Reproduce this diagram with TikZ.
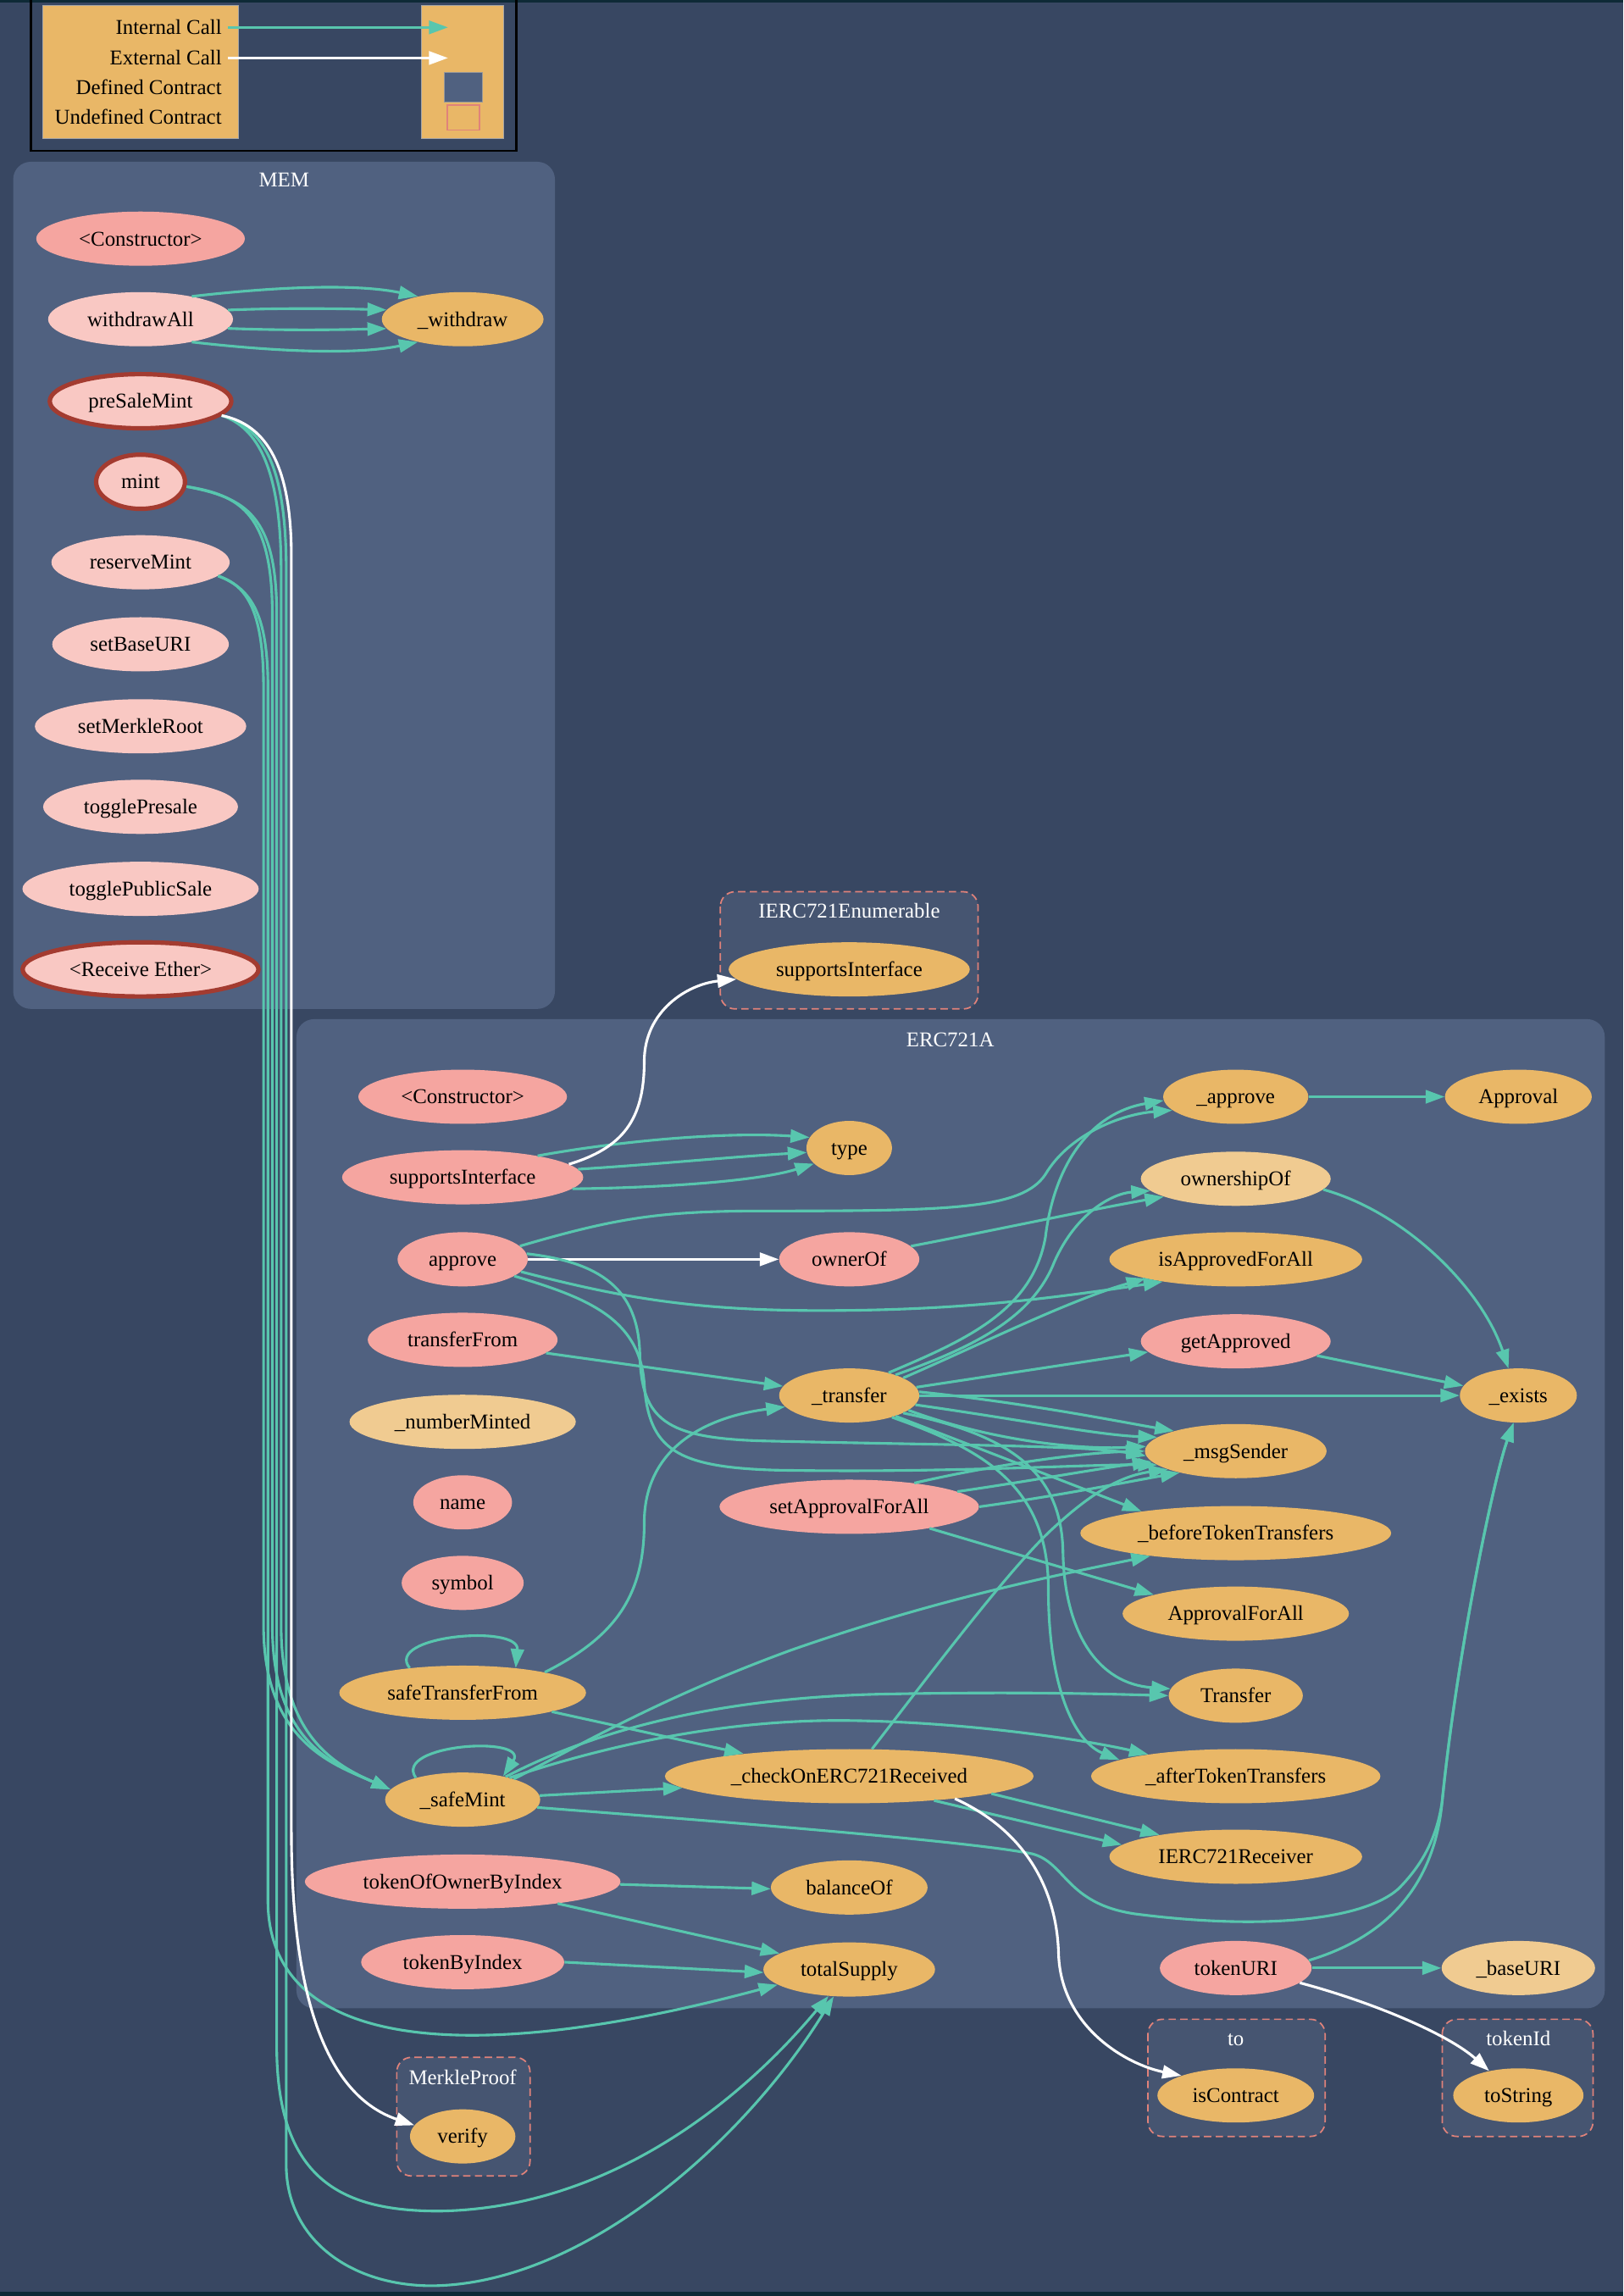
\documentclass[tikz,border=0pt]{standalone}
\usepackage{fontspec}
\setmainfont{Liberation Serif}
\usetikzlibrary{shapes.geometric,arrows.meta}
\definecolor{bgc}{HTML}{384762}
\definecolor{edgeband}{HTML}{0E2A36}
\definecolor{clf}{HTML}{506180}
\definecolor{uclf}{HTML}{465571}
\definecolor{dashc}{HTML}{E0827A}
\definecolor{orng}{HTML}{E9B767}
\definecolor{lorng}{HTML}{F0CB91}
\definecolor{salmon}{HTML}{F5A5A0}
\definecolor{lpink}{HTML}{F9C8C3}
\definecolor{redb}{HTML}{A33B30}
\definecolor{tealc}{HTML}{58C6AE}
\begin{document}
\begin{tikzpicture}[x=1pt,y=-1pt,
  every node/.style={font=\fontsize{14.4}{17}\selectfont},
  fn/.style={ellipse, inner xsep=8.25pt, inner ysep=1pt, minimum height=37pt, minimum width=55.6pt, text height=9.6pt, text depth=0pt, text=black},
  pub/.style={fn, fill=salmon},
  lpub/.style={fn, fill=lpink},
  intf/.style={fn, fill=orng},
  lint/.style={fn, fill=lorng},
  extb/.style={draw=redb, line width=3pt},
  ic/.style={draw=tealc, line width=1.8pt, -{Triangle[length=13pt,width=9pt]}},
  ec/.style={draw=white, line width=1.8pt, -{Triangle[length=13pt,width=9pt]}},
  clus/.style={fill=clf, rounded corners=12pt},
  uclus/.style={fill=uclf, draw=dashc, dash pattern=on 5pt off 3pt, line width=1pt, rounded corners=10pt},
  ctitle/.style={text=white, text height=9.6pt, text depth=0pt, inner sep=0pt},
  ltxt/.style={text=black, text height=9.6pt, text depth=0pt, inner xsep=3.9pt, inner ysep=0pt, anchor=east}
]
\useasboundingbox (0,0) rectangle (1108.6,1568);
\fill[bgc] (0,0) rectangle (1108.6,1568);
\fill[edgeband] (0,0) rectangle (1108.6,1.5);
\fill[edgeband] (0,1565) rectangle (1108.6,1568);

% legend
\draw[black, line width=1.5pt] (21,-3) rectangle (352.5,103);
\fill[orng, draw=gray!70, line width=0.6pt] (29,4) rectangle (163,94.5);
\fill[orng, draw=gray!70, line width=0.6pt] (288,4) rectangle (344,94.5);
\node[ltxt] (lgi) at (155.5,18.7) {Internal Call};
\node[ltxt] (lge) at (155.5,39.6) {External Call};
\node[ltxt] (lgd) at (155.5,59.8) {Defined Contract};
\node[ltxt] (lgu) at (155.5,80.1) {Undefined Contract};
\coordinate (lgit) at (306,18.7);
\coordinate (lget) at (306,39.6);
\node[draw=gray!80, fill=clf, line width=0.6pt, minimum width=25.8pt, minimum height=20.6pt, inner sep=0pt] (lgdef) at (316.5,59.7) {};
\node[draw=dashc, line width=0.8pt, minimum width=21.8pt, minimum height=17pt, inner sep=0pt] (lgund) at (316.5,80.3) {};
\draw[ic] (lgi.east) -- (lgit);
\draw[ec] (lge.east) -- (lget);

% clusters
\fill[clus] (9,110.5) rectangle (379,689);
\node[ctitle] (tmem) at (194,123) {MEM};
\fill[uclus] (492,609) rectangle (668,689);
\node[ctitle] (tenum) at (580,622) {IERC721Enumerable};
\fill[clus] (202.5,696) rectangle (1096,1371.5);
\node[ctitle] (terc) at (649,710) {ERC721A};
\fill[uclus] (271,1405) rectangle (362,1486);
\node[ctitle] (tmp) at (316,1419) {MerkleProof};
\fill[uclus] (784,1379) rectangle (905,1459);
\node[ctitle] (tto) at (844,1392) {to};
\fill[uclus] (985,1379) rectangle (1088,1459);
\node[ctitle] (ttid) at (1037,1392) {tokenId};

% MEM nodes
\node[pub] (mcons) at (96,163) {<Constructor>};
\node[lpub] (wall) at (96,218) {withdrawAll};
\node[intf] (wdr) at (316,218) {\_withdraw};
\node[lpub, extb] (psm) at (96,274) {preSaleMint};
\node[lpub, extb] (mint) at (96,329) {mint};
\node[lpub] (rsm) at (96,384) {reserveMint};
\node[lpub] (sbu) at (96,440) {setBaseURI};
\node[lpub] (smr) at (96,496) {setMerkleRoot};
\node[lpub] (tps) at (96,551) {togglePresale};
\node[lpub] (tpub) at (96,607) {togglePublicSale};
\node[lpub, extb] (rcv) at (96,662) {<Receive Ether>};

% external
\node[intf] (esi) at (580,662) {supportsInterface};
\node[intf] (ver) at (316,1459) {verify};
\node[intf] (isc) at (844,1431) {isContract};
\node[intf] (tostr) at (1037,1431) {toString};

% ERC721A nodes
\node[pub] (econs) at (316,749) {<Constructor>};
\node[pub] (si) at (316,804) {supportsInterface};
\node[intf] (type) at (580,784) {type};
\node[pub] (appr) at (316,860) {approve};
\node[pub] (owof) at (580,860) {ownerOf};
\node[pub] (tf) at (316,915) {transferFrom};
\node[intf] (xfer) at (580,953) {\_transfer};
\node[lint] (nm) at (316,971) {\_numberMinted};
\node[pub] (nme) at (316,1026) {name};
\node[pub] (sym) at (316,1081) {symbol};
\node[intf] (stf) at (316,1156) {safeTransferFrom};
\node[intf] (sm) at (316,1229) {\_safeMint};
\node[pub] (toobi) at (316,1285) {tokenOfOwnerByIndex};
\node[pub] (tbi) at (316,1340) {tokenByIndex};
\node[pub] (safa) at (580,1029) {setApprovalForAll};
\node[intf] (chk) at (580,1213) {\_checkOnERC721Received};
\node[intf] (bal) at (580,1289) {balanceOf};
\node[intf] (ts) at (580,1345) {totalSupply};
\node[intf] (iappr) at (844,749) {\_approve};
\node[intf] (apev) at (1037,749) {Approval};
\node[lint] (owsh) at (844,805) {ownershipOf};
\node[intf] (iafa) at (844,860) {isApprovedForAll};
\node[pub] (gapp) at (844,916) {getApproved};
\node[intf] (exi) at (1037,953) {\_exists};
\node[intf] (msg) at (844,991) {\_msgSender};
\node[intf] (btt) at (844,1047) {\_beforeTokenTransfers};
\node[intf] (afa) at (844,1102) {ApprovalForAll};
\node[intf] (trev) at (844,1158) {Transfer};
\node[intf] (att) at (844,1213) {\_afterTokenTransfers};
\node[intf] (rcvr) at (844,1268) {IERC721Receiver};
\node[pub] (turi) at (844,1344) {tokenURI};
\node[lint] (buri) at (1037,1344) {\_baseURI};

% MEM edges
\draw[ic] (wall.24) .. controls (205,194) and (250,195) .. (wdr.153);
\draw[ic] (wall.6) .. controls (200,210) and (240,211) .. (wdr.173);
\draw[ic] (wall.-6) .. controls (200,226) and (240,225) .. (wdr.187);
\draw[ic] (wall.-24) .. controls (205,242) and (250,241) .. (wdr.207);

% bundle
\draw[ic] (rsm.-10) .. controls (170,400) and (180,420) .. (180,470) -- (180,1110) .. controls (180,1190) and (228,1205) .. (sm.172);
\draw[ic] (mint.-6) .. controls (165,338) and (186,352) .. (186,420) -- (186,1110) .. controls (186,1190) and (228,1205) .. (sm.172);
\draw[ic] (psm.-10) .. controls (176,292) and (192,320) .. (192,390) -- (192,1110) .. controls (192,1185) and (228,1205) .. (sm.172);
\draw[ic] (rsm.-10) .. controls (172,402) and (183,420) .. (183,470) -- (183,1300) .. controls (185,1400) and (320,1412) .. (ts.192);
\draw[ic] (mint.-6) .. controls (168,340) and (189,352) .. (189,420) -- (189,1400) .. controls (190,1490) and (235,1510) .. (300,1510) .. controls (420,1508) and (510,1430) .. (ts.-128);
\draw[ic] (psm.-10) .. controls (180,292) and (195.5,318) .. (195.5,390) -- (195.5,1480) .. controls (196.5,1530) and (240,1561) .. (295,1561) .. controls (400,1560) and (510,1460) .. (ts.-120);
\draw[ec] (psm.-10) .. controls (182,290) and (199,318) .. (199,380) -- (199,1250) .. controls (199,1390) and (235,1435) .. (ver.167);

% ERC721A edges
\draw[ic] (si.16) .. controls (430,778) and (500,773) .. (type.165);
\draw[ic] (si.4) .. controls (450,795) and (500,790) .. (type.186);
\draw[ic] (si.-6) .. controls (460,811) and (520,806) .. (type.204);
\draw[ec] (si.7) .. controls (425,784) and (440,765) .. (440,725) .. controls (440,690) and (470,672) .. (esi.185);

\draw[ec] (appr.0) -- (owof.180);
\draw[ic] (appr.13) .. controls (420,832) and (450,827) .. (520,827) .. controls (650,827) and (698,826) .. (714,802) .. controls (730,775) and (765,761) .. (iappr.192);
\draw[ic] (appr.-12) .. controls (420,885) and (470,895) .. (560,895) .. controls (650,895) and (710,888) .. (iafa.197);
\draw[ic] (appr.5) .. controls (410,862) and (436,880) .. (437,925) .. controls (438,970) and (455,982) .. (520,984) .. controls (650,987) and (740,987) .. (msg.183);
\draw[ic] (appr.-18) .. controls (400,886) and (437,900) .. (440,945) .. controls (443,990) and (462,1002) .. (530,1004) .. controls (650,1006) and (740,1000) .. (msg.190);

\draw[ic] (owof.12) .. controls (680,840) and (740,827) .. (owsh.194);
\draw[ic] (owsh.-7) .. controls (960,828) and (1012,880) .. (exi.110);
\draw[ic] (iappr.0) -- (apev.180);
\draw[ic] (gapp.-10) -- (exi.170);
\draw[ic] (tf.-9) -- (xfer.172);

\draw[ic] (xfer.30) .. controls (660,915) and (705,895) .. (714,845) .. controls (720,795) and (745,760) .. (iappr.183);
\draw[ic] (xfer.24) .. controls (665,920) and (705,900) .. (720,862) .. controls (735,828) and (760,815) .. (owsh.188);
\draw[ic] (xfer.18) .. controls (670,918) and (730,888) .. (iafa.192);
\draw[ic] (xfer.7) -- (gapp.187);
\draw[ic] (xfer.0) -- (exi.180);
\draw[ic] (xfer.3) .. controls (700,958) and (760,970) .. (msg.162);
\draw[ic] (xfer.-8) .. controls (700,970) and (750,980) .. (msg.170);
\draw[ic] (xfer.-14) .. controls (680,985) and (740,990) .. (msg.177);
\draw[ic] (xfer.-24) -- (btt.167);
\draw[ic] (xfer.-18) .. controls (690,980) and (725,1005) .. (726,1060) .. controls (727,1115) and (750,1150) .. (trev.174);
\draw[ic] (xfer.-27) .. controls (672,990) and (716,1015) .. (716,1085) .. controls (716,1155) and (735,1190) .. (att.172);

\draw[ic] (safa.20) .. controls (680,1000) and (740,992) .. (msg.180);
\draw[ic] (safa.8) .. controls (700,1012) and (750,1003) .. (msg.187);
\draw[ic] (safa.0) .. controls (720,1022) and (770,1012) .. (msg.201);
\draw[ic] (safa.-15) -- (afa.167);

\draw[ic] (stf.155) .. controls (262,1117) and (355,1109) .. (stf.25);
\draw[ic] (stf.14) .. controls (420,1118) and (440,1090) .. (440,1040) .. controls (440,990) and (480,968) .. (xfer.190);
\draw[ic] (stf.-12) -- (chk.168);

\draw[ic] (sm.155) .. controls (268,1191) and (362,1185) .. (sm.30);
\draw[ic] (sm.3) -- (chk.184);
\draw[ic] (sm.-6) .. controls (480,1243) and (660,1257) .. (705,1266) .. controls (728,1272) and (728,1300) .. (775,1307) .. controls (860,1318) and (930,1312) .. (955,1290) .. controls (975,1270) and (982,1250) .. (985,1230) .. controls (995,1130) and (1020,1010) .. (exi.-100);
\draw[ic] (sm.22) .. controls (400,1190) and (450,1160) .. (540,1127) .. controls (640,1092) and (720,1076) .. (btt.195);
\draw[ic] (sm.28) .. controls (400,1185) and (480,1160) .. (600,1157) .. controls (700,1155) and (760,1157) .. (trev.180);
\draw[ic] (sm.25) .. controls (420,1190) and (500,1174) .. (580,1175) .. controls (660,1176) and (740,1188) .. (att.166);

\draw[ic] (chk.50) .. controls (630,1150) and (690,1070) .. (720,1043) .. controls (745,1020) and (765,1008) .. (msg.195);
\draw[ic] (chk.-16) -- (rcvr.174);
\draw[ic] (chk.-7) -- (rcvr.164);
\draw[ec] (chk.-12) .. controls (700,1250) and (722,1290) .. (723,1335) .. controls (725,1385) and (770,1410) .. (isc.160);

\draw[ic] (toobi.-1) -- (bal.181);
\draw[ic] (toobi.-13) -- (ts.167);
\draw[ic] (tbi.0) -- (ts.182);

\draw[ic] (turi.0) -- (buri.180);
\draw[ic] (turi.6) .. controls (950,1322) and (980,1285) .. (985,1230) .. controls (995,1130) and (1020,1010) .. (exi.-100);
\draw[ec] (turi.-13) .. controls (940,1368) and (990,1390) .. (tostr.140);
\end{tikzpicture}
\end{document}
